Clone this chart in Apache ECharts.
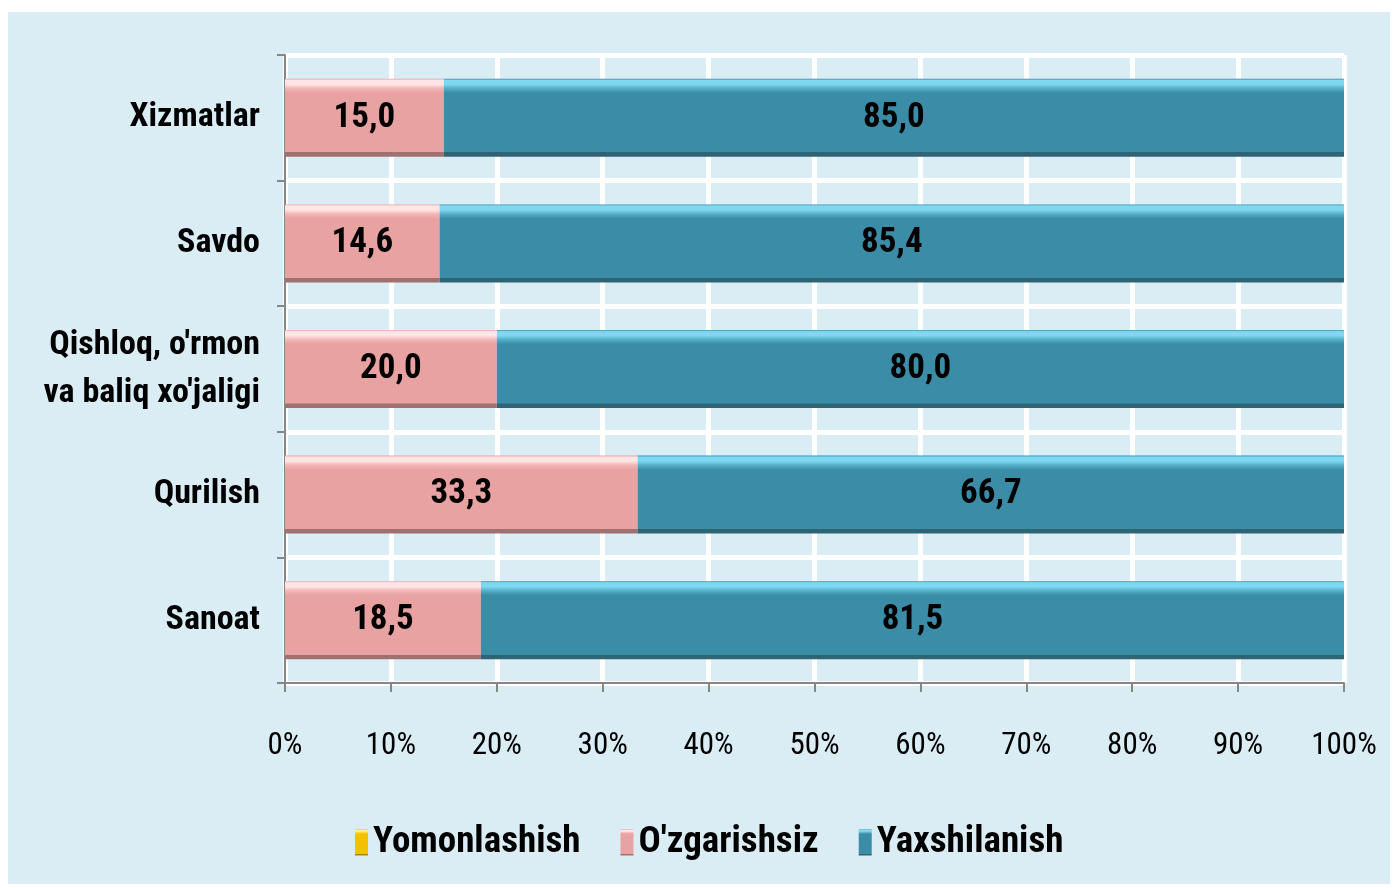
<!DOCTYPE html>
<html>
<head>
<meta charset="utf-8">
<script src="https://cdn.jsdelivr.net/npm/echarts@6/dist/echarts.min.js"></script>
<style>
  html, body { margin: 0; padding: 0; background: #fff; }
  #chart { width: 1396px; height: 888px; }
</style>
</head>
<body>
<div id="chart"></div>
<script>
// categories listed bottom to top (category axis starts at bottom)
const categories = ["Sanoat", "Qurilish", "Qishloq, o'rmon\nva baliq xo'jaligi", "Savdo", "Xizmatlar"];
const seriesNames = ["Yomonlashish", "O'zgarishsiz", "Yaxshilanish"];
const yomonlashish = [0, 0, 0, 0, 0];
const ozgarishsiz = [18.5, 33.3, 20.0, 14.6, 15.0];
const yaxshilanish = [81.5, 66.7, 80.0, 85.4, 85.0];
const xTicks = [0, 10, 20, 30, 40, 50, 60, 70, 80, 90, 100];

const FONT = "Roboto, 'Liberation Sans', sans-serif";
const BOLD = "bold condensed";

function bevel(light, hi, main, dark) {
  return new echarts.graphic.LinearGradient(0, 0, 0, 1, [
    { offset: 0, color: main },
    { offset: 0.02, color: light },
    { offset: 0.07, color: light },
    { offset: 0.12, color: hi },
    { offset: 0.18, color: main },
    { offset: 0.94, color: main },
    { offset: 0.945, color: dark },
    { offset: 1, color: dark }
  ]);
}

const pink = bevel("#ffe6e6", "#f4b8b8", "#e8a2a2", "#9f7070");
const teal = bevel("#7ed8f2", "#58b1cb", "#3a8ca7", "#2e6474");
const yellow = bevel("#fff08a", "#ffd633", "#f2c200", "#a88a10");

function fmt(p) {
  return p.value.toFixed(1).replace(".", ",");
}

function makeSeries(name, data, color) {
  return {
    name: name,
    type: "bar",
    stack: "total",
    barWidth: 78,
    data: data,
    itemStyle: { color: color },
    label: {
      show: name !== "Yomonlashish",
      position: "inside",
      formatter: fmt,
      color: "#000",
      fontFamily: FONT,
      fontWeight: BOLD,
      fontSize: 35
    },
    emphasis: { disabled: true }
  };
}

const chart = echarts.init(document.getElementById("chart"));
chart.setOption({
  animation: false,
  backgroundColor: "#fff",
  graphic: [{
    type: "rect",
    z: -10,
    silent: true,
    shape: { x: 8, y: 12, width: 1382, height: 872 },
    style: { fill: "#dbedf4" }
  }],
  legend: {
    data: seriesNames,
    bottom: 22,
    left: 350,
    icon: "rect",
    itemWidth: 13,
    itemHeight: 26,
    itemGap: 40,
    textStyle: { fontFamily: FONT, fontWeight: BOLD, fontSize: 37, color: "#000" }
  },
  grid: { left: 285, right: 52, top: 55, bottom: 205, outerBoundsMode: "none", containLabel: false },
  xAxis: {
    type: "value",
    min: 0,
    max: 100,
    interval: 10,
    axisLine: { show: true, lineStyle: { color: "#868686", width: 2 } },
    axisTick: { show: true, length: 9, lineStyle: { color: "#868686", width: 2 } },
    splitLine: { show: true, lineStyle: { color: "#fff", width: 5 } },
    axisLabel: {
      margin: 48,
      formatter: function (v) { return xTicks.indexOf(v) >= 0 ? v + "%" : ""; },
      fontFamily: FONT,
      fontWeight: "normal condensed",
      fontSize: 31,
      color: "#000"
    }
  },
  yAxis: {
    type: "category",
    data: categories,
    axisLine: { show: true, lineStyle: { color: "#868686", width: 2 } },
    axisTick: { show: true, length: 8, lineStyle: { color: "#868686", width: 2 } },
    splitLine: { show: true, lineStyle: { color: "#fff", width: 5 } },
    axisLabel: {
      margin: 25,
      fontFamily: FONT,
      fontWeight: BOLD,
      fontSize: 34,
      color: "#000",
      lineHeight: 48,
      align: "right"
    }
  },
  series: [
    makeSeries(seriesNames[0], yomonlashish, yellow),
    makeSeries(seriesNames[1], ozgarishsiz, pink),
    makeSeries(seriesNames[2], yaxshilanish, teal)
  ]
});
</script>
</body>
</html>
